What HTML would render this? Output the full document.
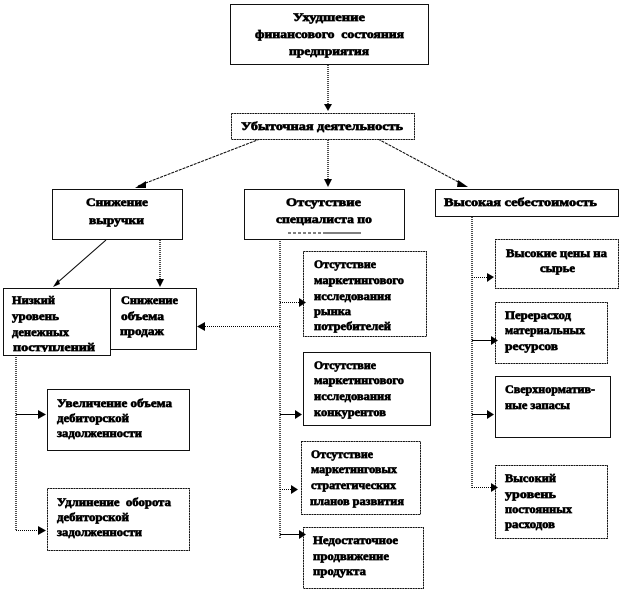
<!DOCTYPE html>
<html lang="ru">
<head>
<meta charset="utf-8">
<title>Диаграмма</title>
<style>
html,body{margin:0;padding:0;background:#fff;width:622px;height:591px;overflow:hidden}
svg{display:block}
text{font-family:"Liberation Serif","DejaVu Serif",serif;font-weight:bold;font-size:12px;fill:#000;stroke:#000;stroke-width:.65px}
.b{fill:#fff;stroke:#111;stroke-width:1}
.t{stroke-dasharray:2 .6}
.s{fill:none;stroke:#000;stroke-width:1}
.d{fill:none;stroke:#000;stroke-width:1;stroke-dasharray:1 1}
.g{fill:none;stroke:#000;stroke-width:1;stroke-dasharray:3 1}
.v{fill:none;stroke:#222;stroke-width:1.6;stroke-dasharray:1 1}
.a{fill:#000;stroke:none}
</style>
</head>
<body>
<svg width="622" height="591" viewBox="0 0 622 591" xmlns="http://www.w3.org/2000/svg">
<defs><clipPath id="c"><rect x="4" y="289" width="105" height="63"/></clipPath></defs>

<!-- connectors -->
<g>
<path class="v" d="M328 65V109"/>
<path class="v" d="M328 140V185"/>
<path class="g" d="M260 139L138 186"/>
<path class="g" d="M378 139L464 185"/>
<path class="s" d="M106 240L57 283"/>
<path class="v" d="M160 240V284"/>
<path class="v" d="M280 239V539"/>
<path class="v" d="M472 217V488"/>
<path class="v" d="M16 355V531"/>
<path class="d" d="M280 302.5H301"/>
<path class="d" d="M280 326.5H200"/>
<path class="s" d="M280 414.5H298"/>
<path class="d" d="M280 489.5H292"/>
<path class="s" d="M280 534.5H300"/>
<path class="d" d="M472 277.5H488"/>
<path class="s" d="M472 340.5H492"/>
<path class="s" d="M472 414.5H488"/>
<path class="d" d="M472 487.5H492"/>
<path class="s" d="M16 414.5H40"/>
<path class="d" d="M16 530.5H40"/>
</g>

<!-- boxes -->
<g>
<rect class="b" x="230.5" y="4.5" width="198" height="60"/>
<rect class="b t" x="231.5" y="113.5" width="183" height="26"/>
<rect class="b" x="52.5" y="189.5" width="130" height="50"/>
<rect class="b" x="244.5" y="189.5" width="160" height="50"/>
<rect class="b" x="435.5" y="189.5" width="183" height="27"/>
<rect class="b" x="110.5" y="288.5" width="86" height="61"/>
<rect class="b" x="3.5" y="288.5" width="107" height="67"/>
<rect class="b" x="47.5" y="389.5" width="142" height="61"/>
<rect class="b t" x="47.5" y="488.5" width="142" height="62"/>
<rect class="b t" x="303.5" y="251.5" width="123" height="85"/>
<rect class="b" x="303.5" y="352.5" width="127" height="73"/>
<rect class="b t" x="301.5" y="441.5" width="119" height="73"/>
<rect class="b t" x="303.5" y="527.5" width="120" height="61"/>
<rect class="b t" x="495.5" y="239.5" width="123" height="49"/>
<rect class="b t" x="495.5" y="302.5" width="112" height="61"/>
<rect class="b" x="495.5" y="376.5" width="115" height="61"/>
<rect class="b t" x="495.5" y="465.5" width="112" height="73"/>
</g>

<!-- arrowheads -->
<g>
<polygon class="a" points="328,111 324,104 332,104"/>
<polygon class="a" points="328,187 324,179 332,179"/>
<polygon class="a" points="135,188 146,181 146,188"/>
<polygon class="a" points="468,187 458,180 457,187"/>
<polygon class="a" points="53,287 58,279 60,284"/>
<polygon class="a" points="160,287 156,279 164,279"/>
<polygon class="a" points="197,326.5 205,322 205,331"/>
<polygon class="a" points="306,302.5 299,298 299,307"/>
<polygon class="a" points="302,414.5 295,410 295,419"/>
<polygon class="a" points="298,489.5 291,485 291,494"/>
<polygon class="a" points="306,534.5 299,530 299,539"/>
<polygon class="a" points="494,277 487,273 487,282"/>
<polygon class="a" points="498,340.5 491,336 491,345"/>
<polygon class="a" points="494,414.5 487,410 487,419"/>
<polygon class="a" points="498,487.5 491,483 491,492"/>
<polygon class="a" points="46,414.5 38,410 38,419"/>
<polygon class="a" points="46,530.5 38,526 38,535"/>
</g>

<!-- labels -->
<g>
<text x="293" y="21" textLength="72" lengthAdjust="spacingAndGlyphs">Ухудшение</text>
<text x="255" y="38" textLength="149" lengthAdjust="spacingAndGlyphs" xml:space="preserve">финансового  состояния</text>
<text x="289" y="55" textLength="80" lengthAdjust="spacingAndGlyphs">предприятия</text>
<text x="241" y="130" textLength="162" lengthAdjust="spacingAndGlyphs">Убыточная деятельность</text>

<text x="86" y="206" textLength="62" lengthAdjust="spacingAndGlyphs">Снижение</text>
<text x="89" y="224" textLength="55" lengthAdjust="spacingAndGlyphs">выручки</text>

<text x="286" y="206" textLength="75" lengthAdjust="spacingAndGlyphs">Отсутствие</text>
<text x="276" y="223" textLength="96" lengthAdjust="spacingAndGlyphs">специалиста по</text>
<path d="M288 233H325" stroke="#000" stroke-width="1" stroke-dasharray="3 2" fill="none"/>
<path d="M325 233H361" stroke="#000" stroke-width="1" fill="none"/>

<text x="444" y="206" textLength="153" lengthAdjust="spacingAndGlyphs">Высокая себестоимость</text>

<text x="12" y="304" textLength="43" lengthAdjust="spacingAndGlyphs">Низкий</text>
<text x="12" y="320" textLength="47" lengthAdjust="spacingAndGlyphs">уровень</text>
<text x="12" y="336" textLength="57" lengthAdjust="spacingAndGlyphs">денежных</text>
<text x="13" y="351" textLength="82" lengthAdjust="spacingAndGlyphs" clip-path="url(#c)">поступлений</text>

<text x="121" y="304" textLength="57" lengthAdjust="spacingAndGlyphs">Снижение</text>
<text x="121" y="320" textLength="43" lengthAdjust="spacingAndGlyphs">объема</text>
<text x="120" y="335" textLength="44" lengthAdjust="spacingAndGlyphs">продаж</text>

<text x="57" y="407" textLength="115" lengthAdjust="spacingAndGlyphs">Увеличение объема</text>
<text x="57" y="422" textLength="72" lengthAdjust="spacingAndGlyphs">дебиторской</text>
<text x="57" y="437" textLength="85" lengthAdjust="spacingAndGlyphs">задолженности</text>

<text x="57" y="506" textLength="114" lengthAdjust="spacingAndGlyphs" xml:space="preserve">Удлинение  оборота</text>
<text x="57" y="521" textLength="72" lengthAdjust="spacingAndGlyphs">дебиторской</text>
<text x="57" y="536" textLength="85" lengthAdjust="spacingAndGlyphs">задолженности</text>

<text x="314" y="268" textLength="62" lengthAdjust="spacingAndGlyphs">Отсутствие</text>
<text x="314" y="284" textLength="90" lengthAdjust="spacingAndGlyphs">маркетингового</text>
<text x="314" y="300" textLength="77" lengthAdjust="spacingAndGlyphs">исследования</text>
<text x="314" y="315" textLength="37" lengthAdjust="spacingAndGlyphs">рынка</text>
<text x="314" y="330" textLength="77" lengthAdjust="spacingAndGlyphs">потребителей</text>

<text x="314" y="369" textLength="62" lengthAdjust="spacingAndGlyphs">Отсутствие</text>
<text x="314" y="384" textLength="90" lengthAdjust="spacingAndGlyphs">маркетингового</text>
<text x="314" y="400" textLength="77" lengthAdjust="spacingAndGlyphs">исследования</text>
<text x="314" y="416" textLength="72" lengthAdjust="spacingAndGlyphs">конкурентов</text>

<text x="311" y="458" textLength="62" lengthAdjust="spacingAndGlyphs">Отсутствие</text>
<text x="311" y="473" textLength="86" lengthAdjust="spacingAndGlyphs">маркетинговых</text>
<text x="311" y="489" textLength="85" lengthAdjust="spacingAndGlyphs">стратегических</text>
<text x="310" y="505" textLength="94" lengthAdjust="spacingAndGlyphs">планов развития</text>

<text x="313" y="544" textLength="85" lengthAdjust="spacingAndGlyphs">Недостаточное</text>
<text x="313" y="560" textLength="76" lengthAdjust="spacingAndGlyphs">продвижение</text>
<text x="313" y="575" textLength="53" lengthAdjust="spacingAndGlyphs">продукта</text>

<text x="506" y="257" textLength="101" lengthAdjust="spacingAndGlyphs">Высокие цены на</text>
<text x="540" y="272" textLength="35" lengthAdjust="spacingAndGlyphs">сырье</text>

<text x="505" y="319" textLength="66" lengthAdjust="spacingAndGlyphs">Перерасход</text>
<text x="505" y="334" textLength="80" lengthAdjust="spacingAndGlyphs">материальных</text>
<text x="505" y="350" textLength="53" lengthAdjust="spacingAndGlyphs">ресурсов</text>

<text x="505" y="393" textLength="90" lengthAdjust="spacingAndGlyphs">Сверхнорматив-</text>
<text x="505" y="409" textLength="65" lengthAdjust="spacingAndGlyphs">ные запасы</text>

<text x="505" y="482" textLength="51" lengthAdjust="spacingAndGlyphs">Высокий</text>
<text x="505" y="498" textLength="51" lengthAdjust="spacingAndGlyphs">уровень</text>
<text x="505" y="513" textLength="67" lengthAdjust="spacingAndGlyphs">постоянных</text>
<text x="505" y="528" textLength="50" lengthAdjust="spacingAndGlyphs">расходов</text>
</g>
</svg>
</body>
</html>
